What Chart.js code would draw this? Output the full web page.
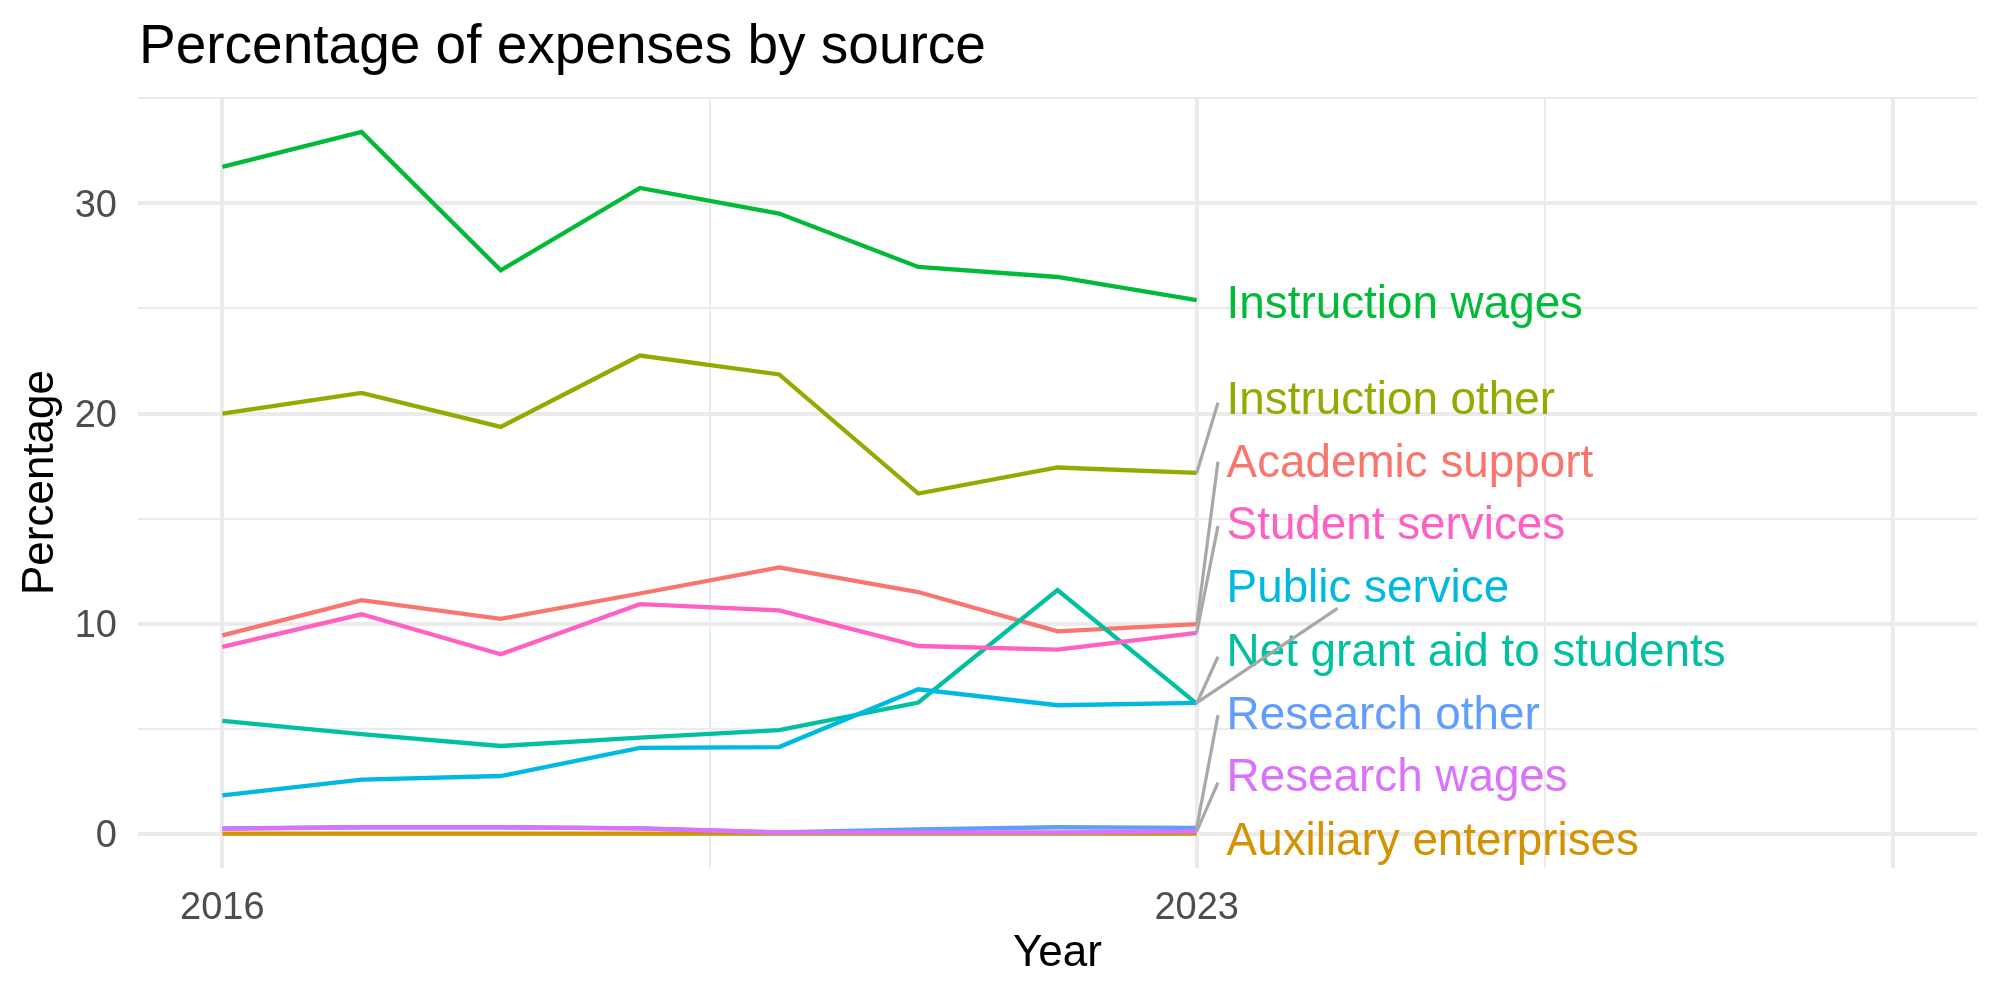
<!DOCTYPE html>
<html>
<head>
<meta charset="utf-8">
<script src="https://cdn.jsdelivr.net/npm/chart.js@4.4.0/dist/chart.umd.min.js"></script>
<style>
  html, body { margin: 0; padding: 0; background: #fff; }
</style>
</head>
<body>
<canvas id="chart" width="2000" height="1000"></canvas>
<script>
// data
const years = [2016, 2017, 2018, 2019, 2020, 2021, 2022, 2023];
const sources = [
  'Academic support', 'Auxiliary enterprises', 'Instruction other',
  'Instruction wages', 'Net grant aid to students', 'Public service',
  'Research other', 'Research wages', 'Student services'
];
const academicSupport = [9.44, 11.11, 10.22, 11.43, 12.67, 11.5, 9.63, 9.97];
const auxiliaryEnterprises = [0, 0, 0, 0, 0, 0, 0, 0];
const instructionOther = [20.0, 20.98, 19.36, 22.76, 21.86, 16.19, 17.43, 17.17];
const instructionWages = [31.74, 33.41, 26.82, 30.74, 29.52, 26.98, 26.5, 25.4];
const netGrantAid = [5.36, 4.73, 4.17, 4.57, 4.92, 6.24, 11.59, 6.19];
const publicService = [1.82, 2.57, 2.74, 4.08, 4.12, 6.87, 6.11, 6.22];
const researchOther = [0.25, 0.3, 0.3, 0.25, 0.05, 0.2, 0.3, 0.27];
const researchWages = [0.22, 0.3, 0.3, 0.25, 0.05, 0.05, 0.05, 0.1];
const studentServices = [8.89, 10.44, 8.54, 10.92, 10.63, 8.93, 8.76, 9.55];

const series = [academicSupport, auxiliaryEnterprises, instructionOther,
  instructionWages, netGrantAid, publicService, researchOther,
  researchWages, studentServices];

const xTickLabels = [2016, 2023];
const yTickLabels = [0, 10, 20, 30];

// ggplot hue palette
const colors = ['#F8766D', '#D39200', '#93AA00', '#00BA38', '#00C19F',
  '#00B9E3', '#619CFF', '#DB72FB', '#FF61C3'];

// repelled label placement, in data units
const labelX = 2023.215;
const labelY = [17.6, -0.4, 20.6, 25.17, 8.6, 11.62, 5.6, 2.61, 14.61];
const segEnd = [[2023.153, 17.70], null, [2023.153, 20.51], null, [2023.153, 8.42],
  [2024.012, 10.72], [2023.153, 5.64], [2023.153, 2.42], [2023.153, 14.64]];

const xGrid = [2016, 2019.5, 2023, 2025.5, 2028];
const xMajor = [2016, 2023, 2028];
const yGrid = [0, 5, 10, 15, 20, 25, 30, 35];

Chart.defaults.font.family = '"Liberation Sans", Arial, sans-serif';

const repelLabels = {
  id: 'repelLabels',
  afterDatasetsDraw(chart) {
    const { ctx, scales: { x, y } } = chart;
    ctx.save();
    ctx.font = '45.8px "Liberation Sans", Arial, sans-serif';
    ctx.textBaseline = 'middle';
    ctx.textAlign = 'left';
    sources.forEach((name, i) => {
      ctx.fillStyle = colors[i];
      ctx.fillText(name, x.getPixelForValue(labelX), y.getPixelForValue(labelY[i]));
    });
    ctx.strokeStyle = '#A8A8A8';
    ctx.lineWidth = 3.2;
    sources.forEach((name, i) => {
      if (!segEnd[i]) return;
      const last = series[i][series[i].length - 1];
      ctx.beginPath();
      ctx.moveTo(x.getPixelForValue(years[years.length - 1]), y.getPixelForValue(last));
      ctx.lineTo(x.getPixelForValue(segEnd[i][0]), y.getPixelForValue(segEnd[i][1]));
      ctx.stroke();
    });
    ctx.restore();
  },
  afterDraw(chart) {
    const { ctx, chartArea } = chart;
    ctx.save();
    ctx.font = '55px "Liberation Sans", Arial, sans-serif';
    ctx.fillStyle = '#000';
    ctx.textBaseline = 'alphabetic';
    ctx.textAlign = 'left';
    ctx.fillText('Percentage of expenses by source', chartArea.left + 1, 63);
    ctx.restore();
  }
};

new Chart(document.getElementById('chart'), {
  type: 'line',
  data: {
    datasets: sources.map((name, i) => ({
      label: name,
      data: years.map((yr, j) => ({ x: yr, y: series[i][j] })),
      borderColor: colors[i],
      borderWidth: 4.3,
      pointRadius: 0,
      tension: 0,
      fill: false,
      order: sources.length - i
    }))
  },
  options: {
    responsive: false,
    animation: false,
    layout: { padding: { top: 97, right: 23, left: 0, bottom: 0 } },
    plugins: { legend: { display: false }, tooltip: { enabled: false } },
    scales: {
      x: {
        type: 'linear',
        min: 2015.394,
        max: 2028.606,
        afterBuildTicks: s => { s.ticks = xGrid.map(v => ({ value: v })); },
        afterFit: s => { s.height = 132; },
        grid: {
          color: '#EBEBEB',
          lineWidth: c => xMajor.includes(c.tick.value) ? 4 : 2,
          drawTicks: false
        },
        border: { display: false },
        ticks: {
          padding: 18,
          color: '#4D4D4D',
          font: { size: 38 },
          maxRotation: 0,
          autoSkip: false,
          callback: v => xTickLabels.includes(v) ? String(v) : ''
        },
        title: {
          display: true, text: 'Year', color: '#000',
          font: { size: 44 }, padding: { top: 0, bottom: 20 }
        }
      },
      y: {
        type: 'linear',
        min: -1.64,
        max: 35.07,
        afterBuildTicks: s => { s.ticks = yGrid.map(v => ({ value: v })); },
        afterFit: s => { s.width = 138; },
        grid: {
          color: '#EBEBEB',
          lineWidth: c => yTickLabels.includes(c.tick.value) ? 4 : 2,
          drawTicks: false
        },
        border: { display: false },
        ticks: {
          padding: 21,
          labelOffset: 3,
          color: '#4D4D4D',
          font: { size: 38 },
          autoSkip: false,
          callback: v => yTickLabels.includes(v) ? String(v) : ''
        },
        title: {
          display: true, text: 'Percentage', color: '#000',
          font: { size: 44 }, padding: { top: 14.6, bottom: 0 }
        }
      }
    }
  },
  plugins: [repelLabels]
});
</script>
</body>
</html>
